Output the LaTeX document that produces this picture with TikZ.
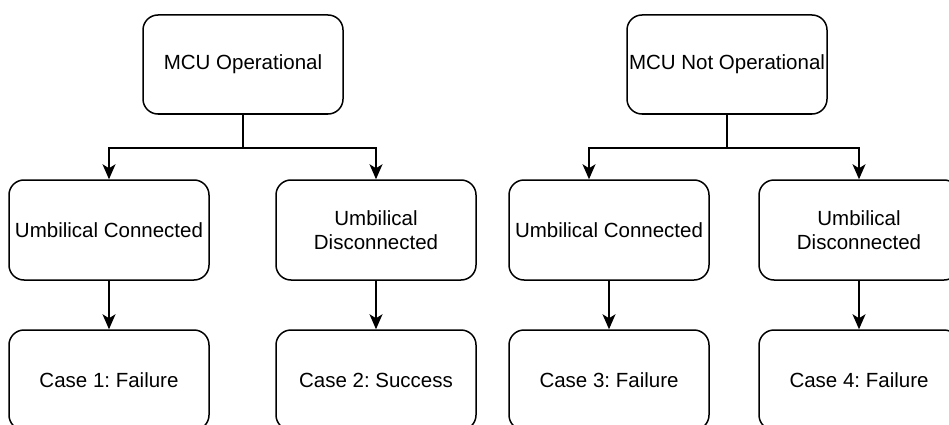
\documentclass[tikz,border=0pt]{standalone}
\usepackage{fontspec}
\setmainfont{Liberation Sans}
\usetikzlibrary{arrows.meta}
\frenchspacing
\begin{document}
\begin{tikzpicture}[x=1pt,y=-1pt,
  box/.style={draw, line width=1.5pt, rounded corners=15pt, minimum width=200pt, minimum height=100pt, inner sep=0pt, align=center, font=\fontsize{20.5}{24}\selectfont},
  conn/.style={line width=1.5pt},
  arr/.style={line width=1.5pt, -{Stealth[length=15pt, width=13pt, inset=4pt]}}]
\clip (0,0) rectangle (949,425);
\node[box, minimum height=99pt] (t1) at (243,64.5) {MCU Operational};
\node[box, minimum height=99pt] (t2) at (727,64.5) {MCU Not Operational};
\node[box] (m1) at (109,230) {Umbilical Connected};
\node[box] (m2) at (376,230) {Umbilical\\Disconnected};
\node[box] (m3) at (609,230) {Umbilical Connected};
\node[box] (m4) at (859,230) {Umbilical\\Disconnected};
\node[box] (b1) at (109,380) {Case 1: Failure};
\node[box] (b2) at (376,380) {Case 2: Success};
\node[box] (b3) at (609,380) {Case 3: Failure};
\node[box] (b4) at (859,380) {Case 4: Failure};
\draw[conn] (t1.south) -- ++(0,33) coordinate (j1);
\draw[arr] (j1) -| (m1.north);
\draw[arr] (j1) -| (m2.north);
\draw[conn] (t2.south) -- ++(0,33) coordinate (j2);
\draw[arr] (j2) -| ([xshift=-20pt]m3.north);
\draw[arr] (j2) -| (m4.north);
\draw[arr] (m1) -- (b1);
\draw[arr] (m2) -- (b2);
\draw[arr] (m3) -- (b3);
\draw[arr] (m4) -- (b4);
\end{tikzpicture}
\end{document}
